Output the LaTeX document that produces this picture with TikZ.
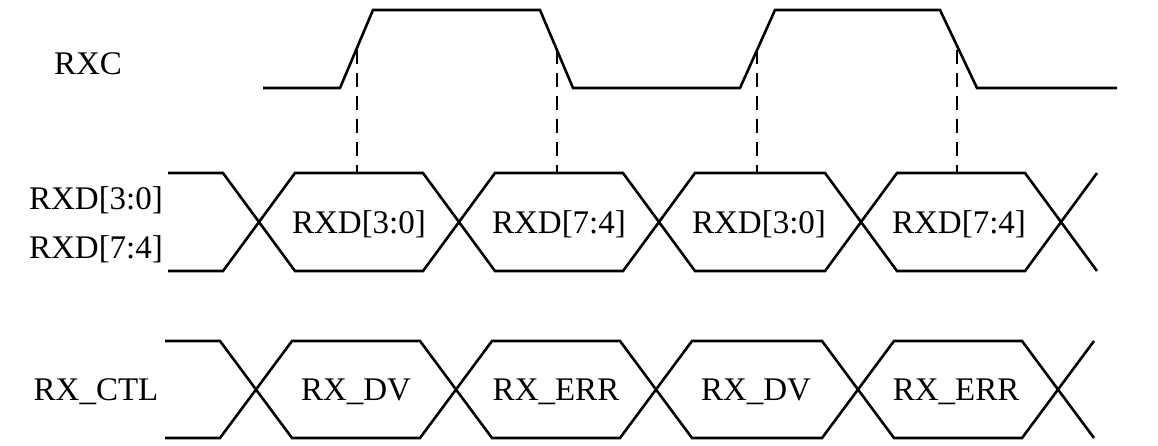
\documentclass[tikz,border=0pt]{standalone}
\usepackage{fontspec}
\setmainfont{Liberation Serif}
\begin{document}
\begin{tikzpicture}[x=1pt,y=-1pt,
  sig/.style={line width=2.6pt,line join=miter},
  lab/.style={font=\fontsize{33}{36}\selectfont,inner sep=0pt},
  dsh/.style={line width=2.4pt,dash pattern=on 14pt off 9pt}]
\useasboundingbox (0,0) rectangle (1158,446);
% RXC clock
\draw[sig] (263,88) -- (340,88) -- (373,10) -- (540,10) -- (573,88) -- (740,88) -- (775,10) -- (940,10) -- (977,88) -- (1117,88);
\node[lab] (rxc) at (88,64) {RXC};
% dashed lines
\foreach \x/\n in {357/a,557/b,757/c,957/d}{
  \coordinate (t\n) at (\x,50); \coordinate (b\n) at (\x,172);
  \draw[dsh] (t\n) -- (b\n);}
% buses
\foreach \yt/\yb/\dx in {173/271/0,341/438/-3}{
 \begin{scope}[xshift=\dx]
  \draw[sig] (168,\yt) -- (223,\yt) -- (295,\yb) -- (423,\yb) -- (495,\yt) -- (623,\yt) -- (695,\yb) -- (825,\yb) -- (897,\yt) -- (1025,\yt) -- (1097,\yb);
  \draw[sig] (168,\yb) -- (223,\yb) -- (295,\yt) -- (423,\yt) -- (495,\yb) -- (623,\yb) -- (695,\yt) -- (825,\yt) -- (897,\yb) -- (1025,\yb) -- (1097,\yt);
 \end{scope}
}
\node[lab] (l1) at (96,200) {RXD[3:0]};
\node[lab] (l2) at (96,249) {RXD[7:4]};
\node[lab] (l3) at (96,392) {RX\_CTL};
\node[lab] (d1) at (359,224) {RXD[3:0]};
\node[lab] (d2) at (559,224) {RXD[7:4]};
\node[lab] (d3) at (759,224) {RXD[3:0]};
\node[lab] (d4) at (959,224) {RXD[7:4]};
\node[lab] (c1) at (356,392) {RX\_DV};
\node[lab] (c2) at (556,392) {RX\_ERR};
\node[lab] (c3) at (756,392) {RX\_DV};
\node[lab] (c4) at (956,392) {RX\_ERR};
\end{tikzpicture}
\end{document}
